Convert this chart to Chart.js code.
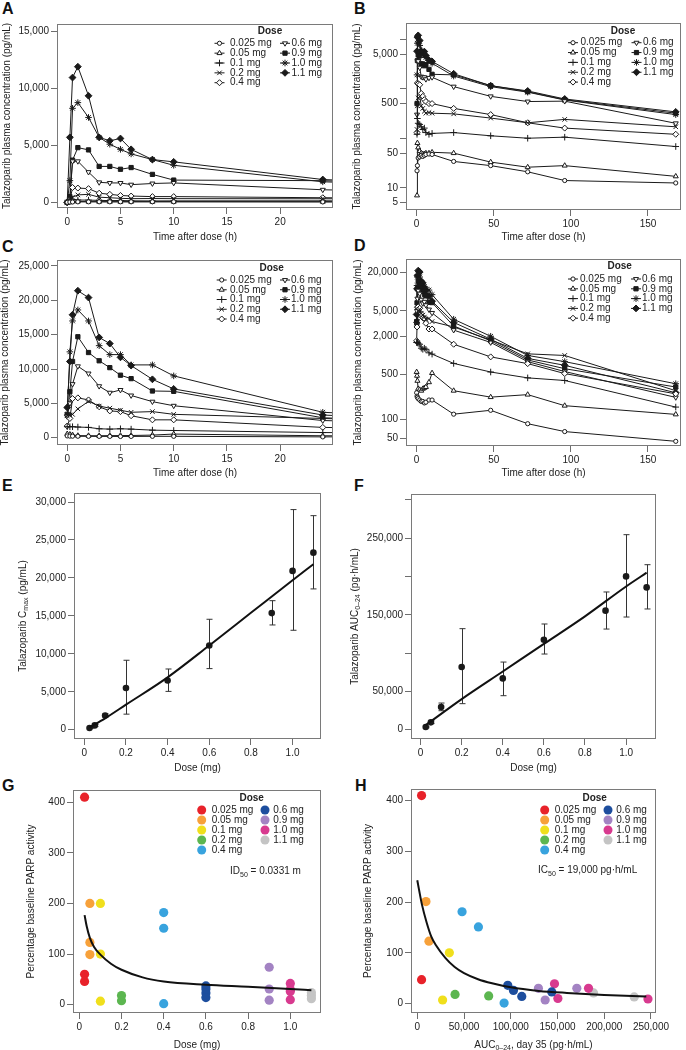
<!DOCTYPE html>
<html>
<head>
<meta charset="utf-8">
<script src="https://cdn.jsdelivr.net/npm/chart.js@4.4.1/dist/chart.umd.min.js"></script>
<style>
  body { margin: 0; background: #fff; width: 686px; height: 1050px; position: relative; overflow: hidden; }
  canvas { position: absolute; }
  .lab { position: absolute; font: bold 16px/16px "Liberation Sans", Arial, sans-serif; color: #111; }
</style>
</head>
<body>
<div class="lab" style="left:2px;top:1px">A</div>
<div class="lab" style="left:354px;top:1px">B</div>
<div class="lab" style="left:2px;top:239px">C</div>
<div class="lab" style="left:354px;top:238px">D</div>
<div class="lab" style="left:2px;top:478px">E</div>
<div class="lab" style="left:354px;top:478px">F</div>
<div class="lab" style="left:2px;top:778px">G</div>
<div class="lab" style="left:355px;top:778px">H</div>

<canvas id="cA" width="343" height="250" style="left:0;top:0"></canvas>
<canvas id="cB" width="343" height="250" style="left:343px;top:0"></canvas>
<canvas id="cC" width="343" height="240" style="left:0;top:240px"></canvas>
<canvas id="cD" width="343" height="240" style="left:343px;top:240px"></canvas>
<canvas id="cE" width="343" height="295" style="left:0;top:480px"></canvas>
<canvas id="cF" width="343" height="295" style="left:343px;top:480px"></canvas>
<canvas id="cG" width="343" height="275" style="left:0;top:775px"></canvas>
<canvas id="cH" width="343" height="275" style="left:343px;top:775px"></canvas>

<script>
// ---- data ----
const doseLabels = ['0.025 mg', '0.05 mg', '0.1 mg', '0.2 mg', '0.4 mg', '0.6 mg', '0.9 mg', '1.0 mg', '1.1 mg'];
const doseLevels = [0.025, 0.05, 0.1, 0.2, 0.4, 0.6, 0.9, 1.0, 1.1];
const pkTimes = [0, 0.25, 0.5, 1, 2, 3, 4, 5, 6, 8, 10, 24, 48, 72, 96, 168];

// day 1 concentrations (pg/mL), panels A and B
const d1_0025 = [0, 22, 28, 40, 42, 45, 43, 45, 47, 48, 47, 34, 28, 21, 14, 12.5];
const d1_005 = [0, 7, 80, 65, 55, 50, 48, 48, 50, 50, 52, 50, 33, 26, 28, 17];
const d1_01 = [0, 120, 250, 200, 190, 170, 150, 160, 130, 120, 125, 130, 112, 100, 105, 68];
const d1_02 = [0, 150, 450, 650, 700, 450, 400, 350, 320, 330, 320, 310, 255, 205, 240, 170];
const d1_04 = [0, 130, 1300, 1250, 1200, 800, 700, 600, 550, 500, 500, 400, 300, 205, 160, 120];
const d1_06 = [0, 300, 3600, 3600, 2650, 1750, 1700, 1700, 1550, 1650, 1700, 1100, 700, 550, 560, 200];
const d1_09 = [0, 500, 3700, 4800, 4600, 3150, 3150, 2900, 3050, 2450, 1950, 1900, 1150, 870, 600, 320];
const d1_10 = [0, 1900, 8250, 8750, 7450, 5700, 5100, 4650, 4250, 3750, 3250, 1800, 1100, 850, 590, 300];
const d1_11 = [0, 5700, 10950, 11900, 9350, 5700, 5400, 5600, 4650, 3750, 3550, 2000, 1150, 900, 620, 340];

// day 35 concentrations (pg/mL), panels C and D
const d35_0025 = [260, 230, 220, 210, 200, 190, 190, 180, 185, 200, 200, 120, 138, 85, 64, 45];
const d35_005 = [550, 480, 400, 300, 290, 280, 300, 310, 320, 380, 530, 280, 222, 243, 163, 119];
const d35_01 = [1600, 1600, 1600, 1550, 1500, 1300, 1250, 1300, 1250, 1100, 1050, 750, 550, 445, 405, 155];
const d35_02 = [3200, 3300, 3400, 4200, 5300, 4600, 4300, 4000, 3700, 3800, 3400, 2800, 1750, 1060, 1000, 280];
const d35_04 = [1700, 2800, 5700, 5800, 5500, 4500, 3900, 3800, 3200, 2600, 2600, 1500, 950, 745, 520, 250];
const d35_06 = [3100, 5000, 7800, 10400, 9350, 7500, 6550, 6950, 6150, 5250, 4650, 2500, 1600, 800, 560, 220];
const d35_09 = [3400, 6700, 11100, 14700, 12400, 11200, 10200, 9100, 8600, 6800, 6750, 2900, 1700, 850, 620, 320];
const d35_10 = [3300, 12500, 17000, 18600, 17000, 13400, 12100, 12100, 10600, 10600, 9000, 3700, 2000, 1000, 800, 360];
const d35_11 = [4400, 11100, 17900, 21400, 20400, 14600, 13700, 11700, 10500, 8500, 7100, 3300, 1800, 900, 700, 260];

// panel E: Cmax by dose, mean with range bars, and fitted curve
const cmaxMean = [220, 570, 1880, 5490, 6490, 11100, 15360, 20920, 23330];
const cmaxLo = [150, 450, 1650, 2050, 5050, 8050, 13800, 13100, 18550];
const cmaxHi = [300, 700, 2100, 9150, 8000, 14550, 17000, 29000, 28200];
const cmaxFitDose = [0.025, 0.1, 0.2, 0.4, 0.6, 0.8, 1.0, 1.1];
const cmaxFit = [300, 1500, 3300, 6900, 11100, 15400, 19700, 21800];

// panel F: AUC0-24 by dose
const aucMean = [3500, 9600, 29600, 81800, 67000, 117500, 155400, 200100, 185800];
const aucLo = [2500, 8000, 24800, 34000, 44400, 98800, 131400, 147100, 157600];
const aucHi = [4500, 11500, 34800, 131900, 88300, 138000, 179800, 254600, 215400];
const aucFitDose = [0.025, 0.2, 0.4, 0.6, 0.8, 1.0, 1.1];
const aucFit = [6000, 40000, 76000, 112000, 148000, 187000, 205000];

// panel G: PARP activity vs dose
const gDose = [0.025, 0.025, 0.025, 0.05, 0.05, 0.05, 0.1, 0.1, 0.1, 0.2, 0.2, 0.4, 0.4, 0.4,
  0.6, 0.6, 0.6, 0.6, 0.9, 0.9, 0.9, 1.0, 1.0, 1.0, 1.0, 1.1, 1.1, 1.1];
const gPct = [410, 60, 46, 200, 123, 99, 200, 100, 7, 18, 8, 182, 151, 2,
  37, 31, 23, 14, 74, 31, 9, 42, 30, 26, 10, 24, 18, 12];
const gFitDose = [0.025, 0.035, 0.05, 0.07, 0.1, 0.15, 0.2, 0.3, 0.4, 0.6, 0.8, 1.0, 1.1];
const gFit = [177, 155, 132, 114, 99, 81, 69, 54, 46, 39.5, 35.5, 31, 28.5];

// panel H: PARP activity vs AUC at day 35
const hDose = [0.025, 0.025, 0.05, 0.05, 0.1, 0.1, 0.2, 0.2, 0.4, 0.4, 0.4, 0.6, 0.6, 0.6, 0.6,
  0.9, 0.9, 0.9, 1.0, 1.0, 1.0, 1.0, 1.1, 1.1];
const hAuc = [4600, 4600, 9300, 12500, 34300, 27100, 40400, 76400, 47900, 65400, 92900,
  96800, 102900, 111800, 143900, 129600, 136800, 170700, 146800, 150400, 183200, 246800, 188600, 232100];
const hPct = [410, 47, 201, 123, 100, 7, 18, 15, 181, 151, 1, 36, 26, 14, 23, 30, 7, 30, 39, 10, 30, 9, 21, 13];
const hFitAuc = [0, 5000, 10000, 15000, 20000, 30000, 40000, 50000, 65000, 80000, 100000, 130000, 160000, 200000, 245000];
const hFit = [243, 195, 160, 132, 115, 90, 72, 60, 48, 40, 32, 25, 21, 17, 14];

// tick values
const timeTicksShort = [0, 5, 10, 15, 20];
const timeTicksLong = [0, 50, 100, 150];
const concTicksA = [0, 5000, 10000, 15000];
const concTicksB = [5, 10, 50, 100, 500, 1000, 5000, 10000];
const concLabelsB = [5, 10, 50, 500, 5000];
const concTicksC = [0, 5000, 10000, 15000, 20000, 25000];
const concTicksD = [50, 100, 500, 2000, 5000, 20000];
const doseTicks = [0, 0.2, 0.4, 0.6, 0.8, 1.0];
const cmaxTicks = [0, 5000, 10000, 15000, 20000, 25000, 30000];
const aucTicks = [0, 50000, 100000, 150000, 200000, 250000, 300000];
const aucLabels = [0, 50000, 150000, 250000];
const parpTicks = [0, 100, 200, 300, 400];
const aucTicksH = [0, 50000, 100000, 150000, 200000, 250000];

// ---- styles ----
const FONT = '"Liberation Sans", Arial, sans-serif';
const INK = '#222';
const LINE = '#1a1a1a';
const pkStyle = [
  { ps: 'circle', r: 2.1, fill: '#fff' },
  { ps: 'triangle', r: 2.9, fill: '#fff' },
  { ps: 'cross', r: 3.3, fill: '#fff' },
  { ps: 'crossRot', r: 3.2, fill: '#fff' },
  { ps: 'rectRot', r: 3, fill: '#fff' },
  { ps: 'triangle', r: 2.9, fill: '#fff', rot: 180 },
  { ps: 'rect', r: 3, fill: LINE },
  { ps: 'star', r: 3.3, fill: LINE },
  { ps: 'rectRot', r: 3.4, fill: LINE }
];
const parpColors = ['#e8222a', '#f7a13a', '#f0df1c', '#5cb650', '#38a3de', '#1d4e9e', '#a383c3', '#d83a8f', '#c4c4c4'];

const thousands = v => String(v).replace(/\B(?=(\d{3})+(?!\d))/g, ',');
const doseFmt = v => (v === 0 ? '0' : v.toFixed(1));

function drawRich(ctx, parts, x, y, vertical, align) {
  ctx.save();
  ctx.translate(x, y);
  if (vertical) ctx.rotate(-Math.PI / 2);
  let w = 0;
  parts.forEach(p => { ctx.font = (p.sub ? '7px ' : '10px ') + FONT; w += ctx.measureText(p.t).width; });
  let cx = align === 'left' ? 0 : -w / 2;
  ctx.textAlign = 'left';
  ctx.textBaseline = 'middle';
  ctx.fillStyle = INK;
  parts.forEach(p => {
    ctx.font = (p.sub ? '7px ' : '10px ') + FONT;
    ctx.fillText(p.t, cx, p.sub ? 3 : 0);
    cx += ctx.measureText(p.t).width;
  });
  ctx.restore();
}

function drawLegend(ctx, L) {
  ctx.font = 'bold 10px ' + FONT;
  ctx.textAlign = 'center';
  ctx.textBaseline = 'middle';
  ctx.fillStyle = INK;
  ctx.fillText('Dose', L.dose[0], L.dose[1]);
  doseLabels.forEach((lab, i) => {
    const col = i < 5 ? L.col1 : L.col2;
    const yy = L.row0 + (i < 5 ? i : i - 5) * L.dy;
    if (L.kind === 'pk') {
      const s = pkStyle[i];
      ctx.strokeStyle = LINE;
      ctx.lineWidth = 1;
      ctx.beginPath();
      ctx.moveTo(col[0] - 5, yy);
      ctx.lineTo(col[0] + 5, yy);
      ctx.stroke();
      ctx.fillStyle = s.fill;
      Chart.helpers.drawPoint(ctx, { pointStyle: s.ps, rotation: s.rot || 0, radius: s.r, borderWidth: 1 }, col[0], yy);
    } else {
      ctx.fillStyle = parpColors[i];
      ctx.beginPath();
      ctx.arc(col[0], yy, 4.5, 0, Math.PI * 2);
      ctx.fill();
    }
    ctx.font = '10px ' + FONT;
    ctx.textAlign = 'left';
    ctx.fillStyle = INK;
    ctx.fillText(lab, col[1], yy);
  });
}

const framePlugin = {
  id: 'frame',
  beforeDatasetsDraw(chart, args, o) {
    if (!o.err) return;
    const { ctx, scales: { x, y } } = chart;
    ctx.save();
    ctx.strokeStyle = '#333';
    ctx.lineWidth = 1;
    o.err.x.forEach((d, i) => {
      const px = Math.round(x.getPixelForValue(d)) + 0.5;
      const lo = y.getPixelForValue(o.err.lo[i]);
      const hi = y.getPixelForValue(o.err.hi[i]);
      ctx.beginPath();
      ctx.moveTo(px, lo); ctx.lineTo(px, hi);
      ctx.moveTo(px - 3, lo); ctx.lineTo(px + 3, lo);
      ctx.moveTo(px - 3, hi); ctx.lineTo(px + 3, hi);
      ctx.stroke();
    });
    ctx.restore();
  },
  afterDraw(chart, args, o) {
    const { ctx, chartArea: a } = chart;
    ctx.save();
    ctx.strokeStyle = '#7a7a7a';
    ctx.lineWidth = 1;
    ctx.strokeRect(Math.round(a.left) + 0.5, Math.round(a.top) + 0.5,
      Math.round(a.right - a.left) - 1, Math.round(a.bottom - a.top) - 1);
    drawRich(ctx, o.xTitle, (a.left + a.right) / 2, o.xTitleY, false);
    drawRich(ctx, o.yTitle, o.yTitleX, (a.top + a.bottom) / 2, true);
    if (o.legend) drawLegend(ctx, o.legend);
    if (o.note) drawRich(ctx, o.note.parts, o.note.x, o.note.y, false, 'left');
    ctx.restore();
  }
};

function panel(id, cfg) {
  const cv = document.getElementById(id);
  const W = cv.width, H = cv.height, a = cfg.area;
  const axis = (s, isX) => ({
    type: s.type || 'linear',
    min: s.min,
    max: s.max,
    bounds: 'data',
    afterBuildTicks: sc => { sc.ticks = s.ticks.map(v => ({ value: v })); },
    afterFit: sc => {
      if (isX) sc.height = H - a.bottom; else sc.width = a.left;
      sc.paddingLeft = sc.paddingRight = sc.paddingTop = sc.paddingBottom = 0;
    },
    grid: { drawOnChartArea: false, drawTicks: true, tickLength: 6, tickColor: '#6e6e6e', tickWidth: 1 },
    border: { display: false },
    ticks: {
      autoSkip: false, maxRotation: 0, minRotation: 0, padding: 2, color: INK,
      font: { family: FONT, size: 10 },
      callback: v => (s.fmt ? s.fmt(v) : thousands(v))
    }
  });
  return new Chart(cv, {
    type: 'scatter',
    data: { datasets: cfg.datasets },
    options: {
      responsive: false,
      animation: false,
      devicePixelRatio: 1,
      layout: { padding: { left: 0, top: a.top, right: W - a.right, bottom: 0 } },
      plugins: { legend: { display: false }, tooltip: { enabled: false }, frame: cfg.frame },
      scales: { x: axis(cfg.x, true), y: axis(cfg.y, false) }
    },
    plugins: [framePlugin]
  });
}

function pkSets(series, logScale) {
  return series.map((vals, i) => {
    const s = pkStyle[i];
    return {
      data: pkTimes.map((t, j) => ({ x: t, y: logScale && vals[j] <= 0 ? null : vals[j] })),
      showLine: true,
      borderColor: LINE,
      borderWidth: 1,
      pointStyle: s.ps,
      pointRotation: s.rot || 0,
      pointRadius: s.r,
      pointBorderWidth: 1,
      pointBorderColor: LINE,
      pointBackgroundColor: s.fill,
      clip: 0
    };
  });
}

function fitSet(xs, ys) {
  return {
    data: xs.map((x, i) => ({ x, y: ys[i] })),
    showLine: true, borderColor: '#111', borderWidth: 2, pointRadius: 0,
    cubicInterpolationMode: 'monotone', clip: 0
  };
}

function dotSet(xs, ys) {
  return {
    data: xs.map((x, i) => ({ x, y: ys[i] })),
    pointRadius: 3.3, pointBackgroundColor: '#1a1a1a', pointBorderWidth: 0
  };
}

function parpSets(groupOf, xs, ys) {
  return doseLevels.map((d, i) => ({
    data: xs.map((x, j) => ({ x, y: ys[j], g: groupOf[j] })).filter(p => p.g === d),
    pointRadius: 4.6, pointBackgroundColor: parpColors[i], pointBorderWidth: 0
  }));
}

const day1 = [d1_0025, d1_005, d1_01, d1_02, d1_04, d1_06, d1_09, d1_10, d1_11];
const day35 = [d35_0025, d35_005, d35_01, d35_02, d35_04, d35_06, d35_09, d35_10, d35_11];
const concTitle = [{ t: 'Talazoparib plasma concentration (pg/mL)' }];
const timeTitle = [{ t: 'Time after dose (h)' }];
const doseTitle = [{ t: 'Dose (mg)' }];
const parpTitle = [{ t: 'Percentage baseline PARP activity' }];

panel('cA', {
  area: { left: 57, top: 24, right: 333, bottom: 208 },
  x: { min: -0.96, max: 24.96, ticks: timeTicksShort },
  y: { min: -500, max: 15650, ticks: concTicksA },
  datasets: pkSets(day1, false),
  frame: { xTitle: timeTitle, xTitleY: 237, yTitle: concTitle, yTitleX: 7,
    legend: { kind: 'pk', dose: [270, 31.7], col1: [219.5, 230], col2: [285, 291.5], row0: 43.3, dy: 9.85 } }
});

panel('cB', {
  area: { left: 63, top: 23, right: 341, bottom: 210 },
  x: { min: -6.9, max: 171.4, ticks: timeTicksLong },
  y: { type: 'logarithmic', min: 3.56, max: 21150, ticks: concTicksB,
    fmt: v => (concLabelsB.includes(v) ? thousands(v) : '') },
  datasets: pkSets(day1, true),
  frame: { xTitle: timeTitle, xTitleY: 237, yTitle: concTitle, yTitleX: 14,
    legend: { kind: 'pk', dose: [280, 31], col1: [230, 237.5], col2: [293.5, 300], row0: 42.7, dy: 9.85 } }
});

panel('cC', {
  area: { left: 57, top: 20, right: 333, bottom: 205 },
  x: { min: -0.96, max: 24.96, ticks: timeTicksShort },
  y: { min: -1063, max: 25873, ticks: concTicksC },
  datasets: pkSets(day35, false),
  frame: { xTitle: timeTitle, xTitleY: 233, yTitle: concTitle, yTitleX: 5.5,
    legend: { kind: 'pk', dose: [271.7, 28.3], col1: [221.7, 230], col2: [285, 291], row0: 40, dy: 9.75 } }
});

panel('cD', {
  area: { left: 63, top: 19, right: 341, bottom: 206 },
  x: { min: -6.9, max: 171.4, ticks: timeTicksLong },
  y: { type: 'logarithmic', min: 38, max: 32600, ticks: concTicksD },
  datasets: pkSets(day35, true),
  frame: { xTitle: timeTitle, xTitleY: 233, yTitle: concTitle, yTitleX: 15,
    legend: { kind: 'pk', dose: [276.7, 26.7], col1: [230, 237], col2: [293, 299], row0: 39, dy: 9.8 } }
});

panel('cE', {
  area: { left: 74, top: 13, right: 321, bottom: 259 },
  x: { min: -0.0495, max: 1.1365, ticks: doseTicks, fmt: doseFmt },
  y: { min: -1224, max: 31186, ticks: cmaxTicks },
  datasets: [fitSet(cmaxFitDose, cmaxFit), dotSet(doseLevels, cmaxMean)],
  frame: { xTitle: doseTitle, xTitleY: 288, yTitleX: 23,
    yTitle: [{ t: 'Talazoparib C' }, { t: 'max', sub: true }, { t: ' (pg/mL)' }],
    err: { x: doseLevels, lo: cmaxLo, hi: cmaxHi } }
});

panel('cF', {
  area: { left: 68, top: 14, right: 313, bottom: 259 },
  x: { min: -0.0466, max: 1.1456, ticks: doseTicks, fmt: doseFmt },
  y: { min: -12140, max: 307700, ticks: aucTicks, fmt: v => (aucLabels.includes(v) ? thousands(v) : '') },
  datasets: [fitSet(aucFitDose, aucFit), dotSet(doseLevels, aucMean)],
  frame: { xTitle: doseTitle, xTitleY: 288, yTitleX: 12,
    yTitle: [{ t: 'Talazoparib AUC' }, { t: '0\u201324', sub: true }, { t: ' (pg\u00b7h/mL)' }],
    err: { x: doseLevels, lo: aucLo, hi: aucHi } }
});

panel('cG', {
  area: { left: 73, top: 15, right: 321, bottom: 238 },
  x: { min: -0.0299, max: 1.1455, ticks: doseTicks, fmt: doseFmt },
  y: { min: -16.4, max: 424.2, ticks: parpTicks },
  datasets: [fitSet(gFitDose, gFit)].concat(parpSets(gDose, gDose, gPct)),
  frame: { xTitle: doseTitle, xTitleY: 270, yTitle: parpTitle, yTitleX: 31.5,
    legend: { kind: 'parp', dose: [251.7, 23], col1: [201.7, 211.7], col2: [265, 273.3], row0: 35, dy: 10 },
    note: { parts: [{ t: 'ID' }, { t: '50', sub: true }, { t: ' = 0.0331 m' }], x: 230, y: 96.7 } }
});

panel('cH', {
  area: { left: 68, top: 14, right: 313, bottom: 238 },
  x: { min: -6720, max: 255400, ticks: aucTicksH },
  y: { min: -18.6, max: 423, ticks: parpTicks },
  datasets: [fitSet(hFitAuc, hFit)].concat(parpSets(hDose, hAuc, hPct)),
  frame: { xTitleY: 270, yTitle: parpTitle, yTitleX: 25,
    xTitle: [{ t: 'AUC' }, { t: '0\u201324', sub: true }, { t: ', day 35 (pg\u00b7h/mL)' }],
    legend: { kind: 'parp', dose: [251.7, 23.3], col1: [201.7, 211.7], col2: [265, 273.3], row0: 35, dy: 10 },
    note: { parts: [{ t: 'IC' }, { t: '50', sub: true }, { t: ' = 19,000 pg\u00b7h/mL' }], x: 195, y: 95.7 } }
});
</script>
</body>
</html>
